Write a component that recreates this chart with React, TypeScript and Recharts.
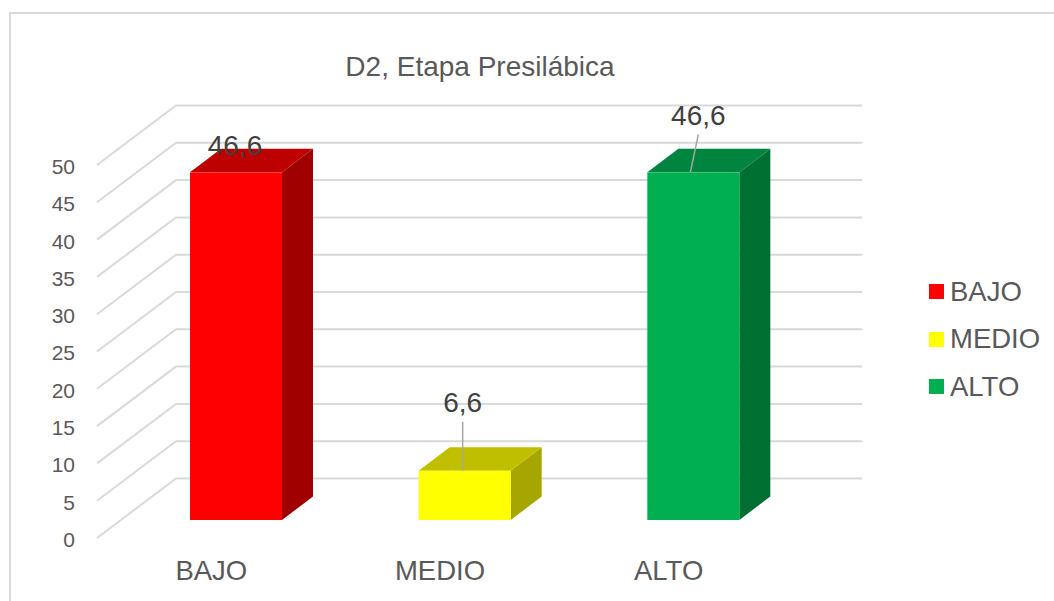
import { Bar, BarChart, CartesianGrid, LabelList, Legend, XAxis, YAxis } from 'recharts'

const CATEGORIES = ['BAJO', 'MEDIO', 'ALTO']
const VALUES = [46.6, 6.6, 46.6]
const Y_TICKS = [0, 5, 10, 15, 20, 25, 30, 35, 40, 45, 50]
const TITLE = 'D2, Etapa Presilábica'

const FRONT_COLORS = ['#ff0000', '#ffff00', '#00b050']
const TOP_COLORS = ['#bf0000', '#bfbf00', '#008540']
const SIDE_COLORS = ['#a00000', '#a6a600', '#006f32']

const TEXT_COLOR = '#595959'
const LABEL_COLOR = '#404040'
const GRID_COLOR = '#d9d9d9'
const FONT = '"Liberation Sans", Arial, sans-serif'

// floor offset of the 3d box, wall depth and bar depth
const WALL_DX = 79
const WALL_DY = 59.5
const BAR_SHIFT_X = 25
const BAR_SHIFT_Y = 18
const BAR_DX = 31
const BAR_DY = 23.5

// label position relative to the bar top centre, and where its leader ends
const LABEL_OFFSETS = [
  { dx: -1, dy: -27, leader: false, endDx: 0 },
  { dx: -2, dy: -68, leader: true, endDx: -2 },
  { dx: 5, dy: -57, leader: true, endDx: -3 },
]

const chartData = CATEGORIES.map((name, i) => ({ name, value: VALUES[i] }))

function GridLine(props: any) {
  const { x1, x2, y1 } = props
  return (
    <path
      d={`M${x1},${y1} L${x1 + WALL_DX},${y1 - WALL_DY} L${x2 + WALL_DX},${y1 - WALL_DY}`}
      fill="none"
      stroke={GRID_COLOR}
      strokeWidth={2}
    />
  )
}

function Box3D(props: any) {
  const { x, y, width, height, index } = props
  const left = x + BAR_SHIFT_X
  const right = left + width
  const top = y - BAR_SHIFT_Y
  const bottom = top + height
  return (
    <g>
      <polygon
        points={`${right},${top} ${right + BAR_DX},${top - BAR_DY} ${right + BAR_DX},${bottom - BAR_DY} ${right},${bottom}`}
        fill={SIDE_COLORS[index]}
      />
      <polygon
        points={`${left},${top} ${left + BAR_DX},${top - BAR_DY} ${right + BAR_DX},${top - BAR_DY} ${right},${top}`}
        fill={TOP_COLORS[index]}
      />
      <rect x={left} y={top} width={width} height={height} fill={FRONT_COLORS[index]} />
    </g>
  )
}

function ValueLabel(props: any) {
  const { x, y, width, value, index } = props
  const off = LABEL_OFFSETS[index]
  const cx = x + BAR_SHIFT_X + width / 2
  const top = y - BAR_SHIFT_Y
  const lx = cx + off.dx
  const ly = top + off.dy
  return (
    <g>
      {off.leader && (
        <line x1={lx} y1={ly + 19} x2={cx + off.endDx} y2={top} stroke="#a6a6a6" strokeWidth={1.5} />
      )}
      <text
        x={lx}
        y={ly}
        textAnchor="middle"
        dominantBaseline="central"
        fontFamily={FONT}
        fontSize={28}
        fill={LABEL_COLOR}
      >
        {String(value).replace('.', ',')}
      </text>
    </g>
  )
}

function LegendBox() {
  return (
    <div style={{ fontFamily: FONT, fontSize: 27.5, color: TEXT_COLOR }}>
      {CATEGORIES.map((name, i) => (
        <div key={name} style={{ display: 'flex', alignItems: 'center', height: 47.5 }}>
          <span style={{ width: 15, height: 15, background: FRONT_COLORS[i], marginRight: 6 }} />
          <span>{name}</span>
        </div>
      ))}
    </div>
  )
}

export default function App() {
  return (
    <div style={{ position: 'absolute', left: 0, top: 0, width: 1054, height: 601, background: '#fff', overflow: 'hidden' }}>
      <div
        style={{
          position: 'absolute',
          left: 9,
          top: 12,
          width: 1100,
          height: 700,
          border: `2px solid ${GRID_COLOR}`,
        }}
      />
      <div
        style={{
          position: 'absolute',
          left: 0,
          top: 51,
          width: 960,
          textAlign: 'center',
          fontFamily: FONT,
          fontSize: 28,
          color: TEXT_COLOR,
        }}
      >
        {TITLE}
      </div>
      <BarChart
        style={{ position: 'absolute', left: 0, top: 0 }}
        width={1054}
        height={601}
        data={chartData}
        margin={{ top: 165, right: 146, bottom: 0, left: 0 }}
      >
        <CartesianGrid vertical={false} horizontal={(p: any) => <GridLine key={p.index} {...p} />} />
        <XAxis
          dataKey="name"
          axisLine={false}
          tickLine={false}
          tickMargin={16}
          height={63}
          interval={0}
          tick={{ fill: TEXT_COLOR, fontSize: 27.5, fontFamily: FONT }}
        />
        <YAxis
          width={97}
          domain={[0, 50]}
          ticks={Y_TICKS}
          interval={0}
          axisLine={false}
          tickLine={false}
          tickMargin={16}
          dy={1.5}
          tick={{ fill: TEXT_COLOR, fontSize: 21, fontFamily: FONT }}
        />
        <Legend
          layout="vertical"
          align="right"
          verticalAlign="top"
          content={<LegendBox />}
          wrapperStyle={{ left: 929, top: 268, width: 125 }}
        />
        <Bar dataKey="value" barSize={92} shape={<Box3D />} isAnimationActive={false}>
          <LabelList dataKey="value" content={<ValueLabel />} />
        </Bar>
      </BarChart>
    </div>
  )
}
